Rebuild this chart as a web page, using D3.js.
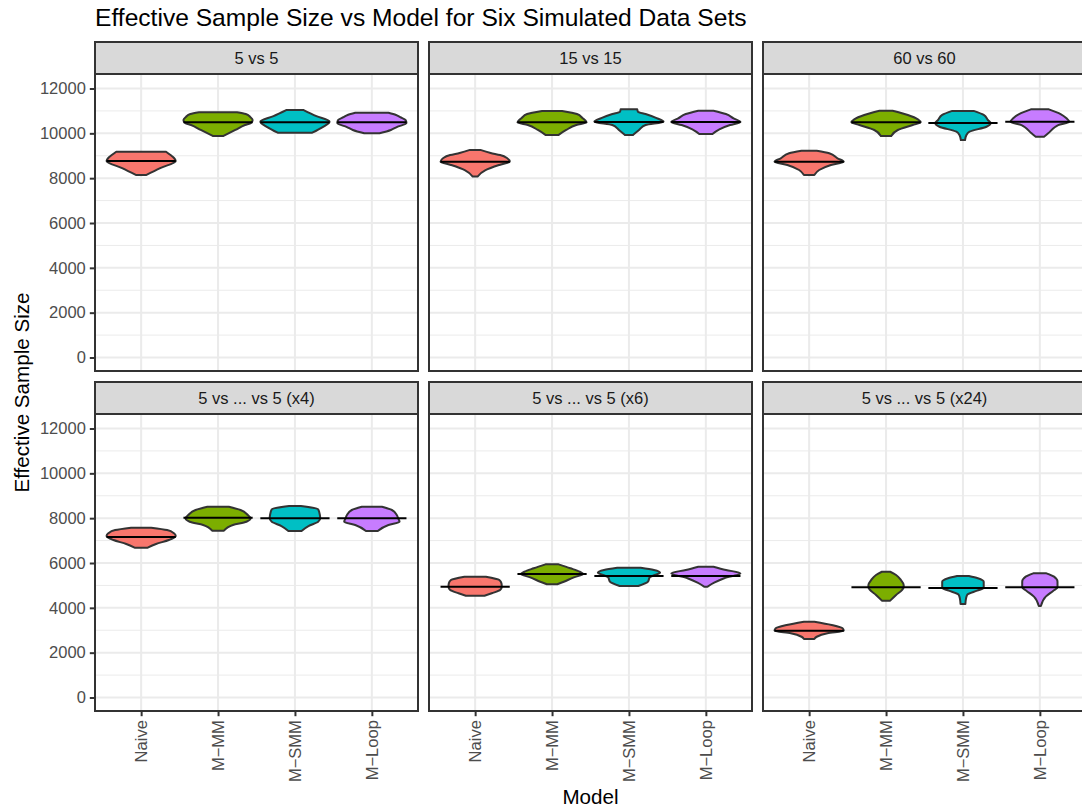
<!DOCTYPE html>
<html>
<head>
<meta charset="utf-8">
<script src="https://cdn.jsdelivr.net/npm/d3@7"></script>
<style>
  body { margin: 0; background: #fff; }
  svg { display: block; }
  text { font-family: "Liberation Sans", Arial, Helvetica, sans-serif; }
</style>
</head>
<body>
<svg id="chart" width="1082" height="809"></svg>
<script>
// facet labels and x categories
const panelLabels = ["5 vs 5", "15 vs 15", "60 vs 60", "5 vs ... vs 5 (x4)", "5 vs ... vs 5 (x6)", "5 vs ... vs 5 (x24)"];
const models = ["Naive", "M\u2212MM", "M\u2212SMM", "M\u2212Loop"];
const modelColors = ["#F8766D", "#7CAE00", "#00BFC4", "#C77CFF"];
const yTicks = [0, 2000, 4000, 6000, 8000, 10000, 12000];

// median effective sample size per panel, one value per model
const medians = [
    [8770, 10490, 10500, 10490],
    [8735, 10490, 10505, 10505],
    [8735, 10490, 10460, 10520],
    [7160, 8020, 7995, 7995],
    [4945, 5510, 5420, 5420],
    [2980, 4915, 4885, 4915]
];

// violin outlines: [ESS value, relative half width]
const violins5v5 = [
    [[9180, .72], [9030, .85], [8900, .95], [8770, 1], [8450, .55], [8140, .14]],
    [[10940, .55], [10860, .8], [10730, .93], [10600, 1], [10460, .95], [10370, .78], [10150, .5], [9880, .15]],
    [[11040, .25], [10770, .62], [10520, 1], [10280, .8], [10030, .5]],
    [[10920, .48], [10820, .7], [10720, .82], [10600, .97], [10460, 1], [10280, .72], [10150, .55], [10000, .22]]
];
const violins15v15 = [
    [[9260, .15], [9120, .45], [9030, .72], [8900, .92], [8735, 1], [8590, .7], [8360, .3], [8070, .07]],
    [[11000, .29], [10860, .72], [10680, .88], [10490, 1], [10370, .7], [10150, .41], [9930, .19]],
    [[11070, .24], [10965, .26], [10860, .48], [10680, .8], [10520, 1], [10370, .48], [10150, .29], [9930, .12]],
    [[11010, .22], [10860, .58], [10670, .8], [10505, 1], [10370, .7], [10180, .39], [9970, .19]]
];
const violins60v60 = [
    [[9225, .22], [9110, .58], [8885, .82], [8735, 1], [8590, .63], [8365, .29], [8140, .15]],
    [[11010, .19], [10820, .63], [10625, .92], [10490, 1], [10370, .77], [10150, .34], [9880, .15]],
    [[11000, .31], [10820, .6], [10595, .72], [10450, .8], [10295, .68], [10075, .19], [9925, .1], [9700, .06]],
    [[11070, .26], [10860, .6], [10670, .77], [10520, .85], [10370, .53], [10270, .43], [10000, .24], [9850, .12]]
];
const violinsX4 = [
    [[7575, .29], [7470, .75], [7325, .95], [7205, 1], [7025, .8], [6850, .43], [6685, .19]],
    [[8510, .31], [8365, .65], [8140, .86], [7995, .94], [7840, .82], [7695, .43], [7440, .17]],
    [[8545, .17], [8395, .67], [8140, .72], [7995, .73], [7840, .67], [7650, .39], [7430, .19]],
    [[8510, .29], [8365, .58], [8140, .72], [7995, .76], [7840, .8], [7695, .48], [7430, .17]]
];
const violinsX6 = [
    [[5390, .31], [5240, .7], [5095, .76], [4945, .77], [4795, .72], [4650, .48], [4540, .27]],
    [[5940, .19], [5765, .53], [5610, .8], [5510, .9], [5360, .63], [5165, .34], [5050, .15]],
    [[5790, .34], [5690, .72], [5565, .9], [5465, .75], [5360, .6], [5165, .55], [4975, .27]],
    [[5835, .22], [5690, .58], [5540, 1], [5320, .53], [5120, .24], [4945, .05]]
];
const violinsX24 = [
    [[3380, .15], [3235, .65], [3085, .97], [2980, 1], [2865, .53], [2710, .22], [2610, .15]],
    [[5610, .12], [5465, .29], [5240, .43], [5020, .51], [4915, .51], [4795, .46], [4575, .29], [4320, .12]],
    [[5420, .17], [5320, .43], [5165, .6], [4885, .6], [4765, .41], [4575, .12], [4425, .09], [4170, .07]],
    [[5540, .19], [5390, .41], [5165, .51], [4915, .51], [4765, .39], [4500, .17], [4080, .03]]
];
const violinsByPanel = [violins5v5, violins15v15, violins60v60, violinsX4, violinsX6, violinsX24];

// layout
const panelLeft = 95, panelW = 323, gapX = 11;
const stripTop = 42, stripH = 32, panelH = 297, gapY = 11;
const grid = "#EBEBEB", dark = "#333333";

const svg = d3.select("#chart");

svg.append("text")
    .attr("x", panelLeft)
    .attr("y", 26)
    .attr("font-size", 24.6)
    .attr("fill", "#000")
    .text("Effective Sample Size vs Model for Six Simulated Data Sets");

panelLabels.forEach((label, i) => {
    const col = i % 3, row = Math.floor(i / 3);
    const px = panelLeft + col * (panelW + gapX);
    const sTop = stripTop + row * (stripH + panelH + gapY);
    const pTop = sTop + stripH;

    const x = d3.scalePoint().domain(models).range([px, px + panelW]).padding(0.6);
    const y = d3.scaleLinear().domain([-602, 12647]).range([pTop + panelH, pTop]);
    const halfW = x.step() * 0.45;

    const g = svg.append("g");

    g.append("rect")
        .attr("x", px).attr("y", pTop)
        .attr("width", panelW).attr("height", panelH)
        .attr("fill", "#fff");

    // minor grid
    g.append("g").selectAll("line")
        .data(d3.range(1000, 12000, 2000))
        .join("line")
        .attr("x1", px).attr("x2", px + panelW)
        .attr("y1", d => y(d)).attr("y2", d => y(d))
        .attr("stroke", grid).attr("stroke-width", 1);

    // major grid
    g.append("g").selectAll("line")
        .data(yTicks)
        .join("line")
        .attr("x1", px).attr("x2", px + panelW)
        .attr("y1", d => y(d)).attr("y2", d => y(d))
        .attr("stroke", grid).attr("stroke-width", 2);
    g.append("g").selectAll("line")
        .data(models)
        .join("line")
        .attr("x1", d => x(d)).attr("x2", d => x(d))
        .attr("y1", pTop).attr("y2", pTop + panelH)
        .attr("stroke", grid).attr("stroke-width", 2);

    // violins
    violinsByPanel[i].forEach((profile, m) => {
        const cx = x(models[m]);
        const pts = profile.slice().sort((a, b) => b[0] - a[0]);
        const area = d3.area()
            .y(d => y(d[0]))
            .x0(d => cx - d[1] * halfW)
            .x1(d => cx + d[1] * halfW)
            .curve(d3.curveMonotoneY);
        g.append("path")
            .attr("d", area(pts))
            .attr("fill", modelColors[m])
            .attr("stroke", dark)
            .attr("stroke-width", 2)
            .attr("stroke-linejoin", "round");
    });

    // medians
    g.append("g").selectAll("line")
        .data(medians[i])
        .join("line")
        .attr("x1", (d, m) => x(models[m]) - halfW)
        .attr("x2", (d, m) => x(models[m]) + halfW)
        .attr("y1", d => y(d)).attr("y2", d => y(d))
        .attr("stroke", "#000").attr("stroke-width", 2);

    // panel border
    g.append("rect")
        .attr("x", px).attr("y", pTop)
        .attr("width", panelW).attr("height", panelH)
        .attr("fill", "none").attr("stroke", dark).attr("stroke-width", 2);

    // strip
    g.append("rect")
        .attr("x", px).attr("y", sTop)
        .attr("width", panelW).attr("height", stripH)
        .attr("fill", "#D9D9D9").attr("stroke", dark).attr("stroke-width", 2);
    g.append("text")
        .attr("x", px + panelW / 2).attr("y", sTop + stripH / 2)
        .attr("text-anchor", "middle").attr("dominant-baseline", "central")
        .attr("font-size", 16.5).attr("fill", "#1A1A1A")
        .text(label);

    // y axis on left column
    if (col === 0) {
        const ya = g.append("g")
            .attr("transform", `translate(${px},0)`)
            .call(d3.axisLeft(y).tickValues(yTicks).tickFormat(d3.format("d")).tickSize(5.2).tickPadding(4));
        ya.select(".domain").remove();
        ya.selectAll(".tick line").attr("stroke", dark).attr("stroke-width", 2);
        ya.selectAll(".tick text")
            .attr("font-size", 16.5).attr("fill", "#4D4D4D")
            .attr("font-family", "Liberation Sans, Arial, sans-serif");
    }

    // x axis on bottom row
    if (row === 1) {
        const xa = g.append("g")
            .attr("transform", `translate(0,${pTop + panelH})`)
            .call(d3.axisBottom(x).tickSize(5.2).tickPadding(4));
        xa.select(".domain").remove();
        xa.selectAll(".tick line").attr("stroke", dark).attr("stroke-width", 2);
        xa.selectAll(".tick text")
            .attr("font-size", 16.5).attr("fill", "#4D4D4D")
            .attr("font-family", "Liberation Sans, Arial, sans-serif")
            .attr("transform", "rotate(-90)")
            .attr("text-anchor", "end")
            .attr("x", -9.2).attr("y", 0).attr("dy", "0.35em");
    }
});

// axis titles
svg.append("text")
    .attr("x", (panelLeft + panelLeft + 3 * panelW + 2 * gapX) / 2)
    .attr("y", 804)
    .attr("text-anchor", "middle")
    .attr("font-size", 20.6)
    .text("Model");

svg.append("text")
    .attr("transform", `translate(29,${(stripTop + stripH + stripTop + 2 * stripH + 2 * panelH + gapY) / 2}) rotate(-90)`)
    .attr("text-anchor", "middle")
    .attr("font-size", 20.6)
    .text("Effective Sample Size");
</script>
</body>
</html>
